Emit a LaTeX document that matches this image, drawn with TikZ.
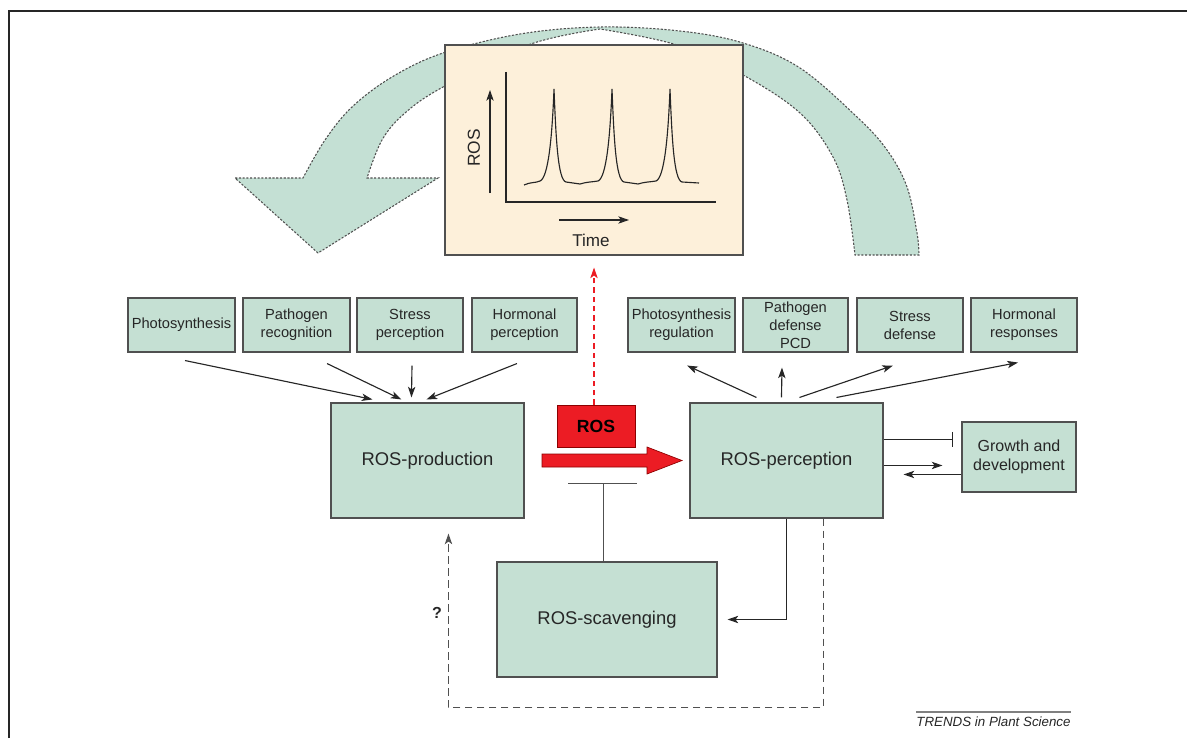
\documentclass[tikz,border=0pt]{standalone}
\usepackage{fontspec}
\setmainfont{Liberation Sans}
\usetikzlibrary{arrows.meta,calc}
\definecolor{boxgreen}{HTML}{C5E0D3}
\definecolor{arcgreen}{HTML}{C4E0D4}
\definecolor{peach}{HTML}{FDF0DA}
\definecolor{rosred}{HTML}{EC1C24}
\definecolor{edge}{HTML}{505050}
\definecolor{ink}{HTML}{262626}
\begin{document}
\begin{tikzpicture}[x=0.75pt,y=-0.75pt,
  sz/.style 2 args={minimum width=#1*0.75pt, minimum height=#2*0.75pt},
  box/.style={draw=edge, fill=boxgreen, line width=0.8pt, inner sep=0pt, align=center, text=ink, font=\fontsize{11}{13.5}\selectfont},
  bigbox/.style={box, font=\fontsize{13.8}{16}\selectfont},
  arr/.style={draw=ink, line width=0.85pt, -{Stealth[length=8pt,width=5.5pt,inset=2pt]}},
  plain/.style={draw=ink, line width=0.85pt},
  arcstyle/.style={fill=arcgreen, draw=edge, line width=0.8pt, dash pattern=on 1.6pt off 1.2pt},
  feedback/.style={draw=edge, line width=1.05pt, dash pattern=on 5.5pt off 3.5pt, -{Stealth[length=8pt,width=5.5pt,inset=2pt]}},
  reddash/.style={draw=rosred, line width=0.85pt, dash pattern=on 4pt off 3pt, -{Stealth[length=8pt,width=5.5pt,inset=2pt]}}
]
\useasboundingbox (0,0) rectangle (1187,738);
% frame
\draw[ink, line width=1.5pt] (9,738) -- (9,11) -- (1187,11);

% big curved arrow
\path[arcstyle] (318,253) -- (235,178)
 -- plot[smooth,tension=0.6] coordinates {(303,178) (325,140) (352,107) (392,77) (443,53) (520,34) (600,27) (680,31) (743,43) (800,68) (857,117) (887,150) (907,187) (917,233) (919,255)}
 -- plot[smooth,tension=0.6] coordinates {(855,255) (847,200) (833,157) (800,113) (743,75) (677,45) (600,29)}
 -- plot[smooth,tension=0.6] coordinates {(600,29) (528,45) (443,87) (405,113) (382,140) (367,178)}
 -- (438,178) -- cycle;

% graph box
\node[draw=edge, fill=peach, line width=0.8pt, inner sep=0pt, sz={298}{210}] (graph) at (594,150) {};
\draw[ink, line width=0.8pt] (506,72) -- (506,202) -- (716,202);
\draw[arr] (490,193) -- (490,90);
\node[rotate=90, text=ink, font=\fontsize{13}{15}\selectfont] (roslab) at (474,148) {ROS};
\draw[arr] (559,220) -- (629,220);
\node[text=ink, font=\fontsize{12.8}{15}\selectfont] (timelab) at (591,240) {Time};
\draw[ink, line width=0.85pt] (524,185) .. controls (530,182) and (536,183) .. (540,181)
  .. controls (548,178) and (552,140) .. (554,89) .. controls (556,140) and (558,180) .. (566,182) -- (580,184)
  .. controls (586,182) and (592,182) .. (598,181)
  .. controls (606,178) and (610,140) .. (612,89) .. controls (614,140) and (616,180) .. (624,182) -- (638,184)
  .. controls (644,182) and (650,182) .. (656,181)
  .. controls (664,178) and (668,140) .. (670,89) .. controls (672,140) and (674,180) .. (682,182) -- (699,183);

% top row left
\node[box, sz={107}{54}] (p1) at (181.5,325) {Photosynthesis};
\node[box, sz={107}{54}] (p2) at (296.5,325) {Pathogen\\recognition};
\node[box, sz={106}{54}] (p3) at (410,325) {Stress\\perception};
\node[box, sz={105}{54}] (p4) at (524.5,325) {Hormonal\\perception};
% top row right
\node[box, sz={107}{54}] (q1) at (681.5,325) {Photosynthesis\\regulation};
\node[box, sz={105}{54}] (q2) at (795.5,325) {Pathogen\\defense\\PCD};
\node[box, sz={106}{54}] (q3) at (910,325) {Stress\\defense};
\node[box, sz={106}{54}] (q4) at (1024,325) {Hormonal\\responses};

% main boxes
\node[bigbox, sz={193}{115}] (prod) at (427.5,460.5) {ROS-production};
\node[bigbox, sz={193}{115}] (perc) at (786.5,460.5) {ROS-perception};
\node[bigbox, sz={220}{115}] (scav) at (607,619.5) {ROS-scavenging};
\node[box, sz={114}{70}, font=\fontsize{12}{14.3}\selectfont] (growth) at (1019,457) {Growth and\\development};

% inputs to production
\draw[arr] ($(p1.south)+(3.5,8)$) -- ($(prod.north west)+(42,-3)$);
\draw[arr] ($(p2.south)+(30.5,11)$) -- ($(prod.north west)+(71,-3)$);
\draw[arr] ($(p3.south)+(2,13)$) -- ($(prod.north west)+(81,-5)$);
\draw[arr] ($(p4.south)+(-7.5,11)$) -- ($(prod.north west)+(96,-3)$);

% outputs from perception
\draw[arr] ($(perc.north west)+(67,-5)$) -- ($(q1.south)+(5.5,13)$);
\draw[arr] ($(perc.north west)+(92,-5)$) -- ($(q2.south)+(-13.5,15)$);
\draw[arr] ($(perc.north west)+(110,-5)$) -- ($(q3.south)+(-17,13)$);
\draw[arr] ($(perc.north west)+(147,-5)$) -- ($(q4.south)+(-6,10)$);

% red ROS
\node[fill=rosred, draw=red!55!black, line width=0.5pt, inner sep=0pt, sz={78}{42}, text=black, font=\bfseries\fontsize{13.2}{15}\selectfont] (rosbox) at (596,426) {ROS};
\draw[fill=rosred, draw=red!55!black, line width=0.5pt] (542,454) -- (647,454) -- (647,447) -- (682,460.5) -- (647,474) -- (647,467) -- (542,467) -- cycle;
\draw[reddash] ($(rosbox.north)+(-2,0)$) -- ($(graph.south)+(0,12)$);

% scavenging inhibition
\coordinate (inh) at (603.5,483);
\draw[draw=edge, line width=0.75pt] ($(scav.north)+(-3.5,0)$) -- (inh);
\draw[draw=edge, line width=0.75pt] ($(inh)+(-35.5,0)$) -- ($(inh)+(33.5,0)$);

% perception to scavenging
\draw[arr, shorten >=7.5pt] ($(perc.south west)+(97,0)$) |- (scav.east);

% feedback
\draw[feedback] ($(perc.south west)+(134,0)$) -- ++(0,189) -| ($(prod.south west)+(118,15)$);
\node[text=ink, font=\bfseries\fontsize{12}{14}\selectfont] (qmark) at (437,613) {?};

% growth
\coordinate (gbar) at ($(growth.north west)+(-9,18)$);
\draw[plain] ($(perc.north east)+(0,37)$) -- (gbar);
\draw[plain] ($(gbar)+(0,-7.5)$) -- ($(gbar)+(0,7.5)$);
\draw[arr] ($(perc.north east)+(0,63)$) -- ($(growth.north west)+(-19,44)$);
\draw[arr] ($(growth.north west)+(0,53)$) -- ($(perc.north east)+(20,72)$);

% credit
\draw[draw=gray, line width=0.8pt] (916,712) -- (1071,712);
\node[text=ink, font=\itshape\fontsize{10}{11}\selectfont] (trends) at (993.5,722) {TRENDS in Plant Science};
\end{tikzpicture}
\end{document}
